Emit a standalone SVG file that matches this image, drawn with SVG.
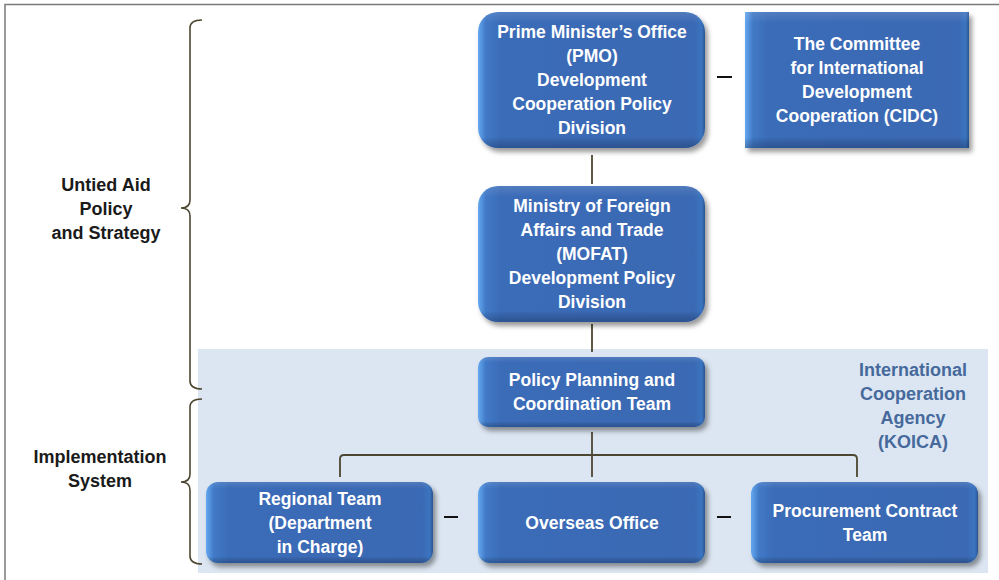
<svg xmlns="http://www.w3.org/2000/svg" width="999" height="580" viewBox="0 0 999 580">
  <defs>
    <linearGradient id="boxH" x1="0" y1="0" x2="1" y2="0">
      <stop offset="0" stop-color="#64a8f0"/>
      <stop offset="0.035" stop-color="#4179c6"/>
      <stop offset="0.1" stop-color="#3b6cb8"/>
      <stop offset="0.95" stop-color="#3a69b3"/>
      <stop offset="0.985" stop-color="#3b74c0"/>
      <stop offset="1" stop-color="#2a5594"/>
    </linearGradient>
    <linearGradient id="boxV" x1="0" y1="0" x2="0" y2="1">
      <stop offset="0" stop-color="#ffffff" stop-opacity="0.12"/>
      <stop offset="0.08" stop-color="#ffffff" stop-opacity="0"/>
      <stop offset="0.92" stop-color="#000000" stop-opacity="0"/>
      <stop offset="1" stop-color="#0a1e40" stop-opacity="0.3"/>
    </linearGradient>
    <filter id="shadow" x="-10%" y="-10%" width="125%" height="130%">
      <feDropShadow dx="3" dy="4" stdDeviation="2.5" flood-color="#000" flood-opacity="0.4"/>
    </filter>
  </defs>
  <style>
    .box { fill: url(#boxH); filter: url(#shadow); }
    .gloss { fill: url(#boxV); }
    .lbl { font-family: "Liberation Sans", Arial, sans-serif; font-weight: bold; font-size: 17.5px; fill: #ffffff; text-anchor: middle; }
    .side { font-family: "Liberation Sans", Arial, sans-serif; font-weight: bold; font-size: 18px; fill: #1a1a1a; text-anchor: middle; }
    .agency { font-family: "Liberation Sans", Arial, sans-serif; font-weight: bold; font-size: 18px; fill: #46699c; text-anchor: middle; }
    .link { fill: none; stroke: #4d4631; stroke-width: 1.8; }
    .brace { fill: none; stroke: #4d4631; stroke-width: 1.6; }
    .dash { stroke: #111111; stroke-width: 2; }
  </style>

  <!-- page -->
  <rect x="0" y="0" width="999" height="580" fill="#ffffff"/>
  <rect x="5" y="4.5" width="1000" height="600" fill="none" stroke="#7a7a7a" stroke-width="1.5"/>

  <!-- agency band -->
  <rect x="198" y="349" width="790" height="224" fill="#dce6f2"/>

  <!-- braces -->
  <g id="braces">
    <path class="brace" d="M202,20 Q190,20 190,28 L190,200 Q190,208 181,208 Q190,208 190,216 L190,381 Q190,389 202,389"/>
    <path class="brace" d="M202,399 Q190,399 190,407 L190,474 Q190,482 181,482 Q190,482 190,490 L190,556 Q190,564 202,564"/>
  </g>

  <!-- side labels -->
  <g id="label-policy">
    <text class="side" x="106" y="191">Untied Aid</text>
    <text class="side" x="106" y="215">Policy</text>
    <text class="side" x="106" y="239">and Strategy</text>
  </g>
  <g id="label-implementation">
    <text class="side" x="100" y="463">Implementation</text>
    <text class="side" x="100" y="487">System</text>
  </g>

  <!-- connectors -->
  <g id="connectors">
    <line class="link" x1="592" y1="155" x2="592" y2="184"/>
    <line class="link" x1="592" y1="324" x2="592" y2="352"/>
    <line class="link" x1="592" y1="432" x2="592" y2="477"/>
    <path class="link" d="M340,477 L340,459 Q340,455 344,455 L853,455 Q857,455 857,459 L857,477"/>
    <line class="dash" x1="717" y1="77" x2="732" y2="77"/>
    <line class="dash" x1="444" y1="517" x2="458" y2="517"/>
    <line class="dash" x1="717" y1="517" x2="731" y2="517"/>
  </g>

  <!-- nodes -->
  <g id="pmo">
    <rect class="box" x="478" y="12" width="227" height="136" rx="20"/>
    <rect class="gloss" x="478" y="12" width="227" height="136" rx="20"/>
    <text class="lbl" x="592" y="38">Prime Minister’s Office</text>
    <text class="lbl" x="592" y="62">(PMO)</text>
    <text class="lbl" x="592" y="86">Development</text>
    <text class="lbl" x="592" y="110">Cooperation Policy</text>
    <text class="lbl" x="592" y="134">Division</text>
  </g>

  <g id="cidc">
    <rect class="box" x="745" y="12" width="224" height="136"/>
    <rect class="gloss" x="745" y="12" width="224" height="136"/>
    <text class="lbl" x="857" y="50">The Committee</text>
    <text class="lbl" x="857" y="74">for International</text>
    <text class="lbl" x="857" y="98">Development</text>
    <text class="lbl" x="857" y="122">Cooperation (CIDC)</text>
  </g>

  <g id="mofat">
    <rect class="box" x="478" y="186" width="227" height="136" rx="20"/>
    <rect class="gloss" x="478" y="186" width="227" height="136" rx="20"/>
    <text class="lbl" x="592" y="212">Ministry of Foreign</text>
    <text class="lbl" x="592" y="236">Affairs and Trade</text>
    <text class="lbl" x="592" y="260">(MOFAT)</text>
    <text class="lbl" x="592" y="284">Development Policy</text>
    <text class="lbl" x="592" y="308">Division</text>
  </g>

  <g id="policy-planning">
    <rect class="box" x="478" y="357" width="227" height="70" rx="10"/>
    <rect class="gloss" x="478" y="357" width="227" height="70" rx="10"/>
    <text class="lbl" x="592" y="386">Policy Planning and</text>
    <text class="lbl" x="592" y="410">Coordination Team</text>
  </g>

  <g id="koica-label">
    <text class="agency" x="913" y="376">International</text>
    <text class="agency" x="913" y="400">Cooperation</text>
    <text class="agency" x="913" y="424">Agency</text>
    <text class="agency" x="913" y="448">(KOICA)</text>
  </g>

  <g id="regional-team">
    <rect class="box" x="206" y="482" width="227" height="81" rx="12"/>
    <rect class="gloss" x="206" y="482" width="227" height="81" rx="12"/>
    <text class="lbl" x="320" y="505">Regional Team</text>
    <text class="lbl" x="320" y="529">(Department</text>
    <text class="lbl" x="320" y="553">in Charge)</text>
  </g>

  <g id="overseas-office">
    <rect class="box" x="478" y="482" width="227" height="81" rx="12"/>
    <rect class="gloss" x="478" y="482" width="227" height="81" rx="12"/>
    <text class="lbl" x="592" y="529">Overseas Office</text>
  </g>

  <g id="procurement-team">
    <rect class="box" x="751" y="482" width="227" height="81" rx="12"/>
    <rect class="gloss" x="751" y="482" width="227" height="81" rx="12"/>
    <text class="lbl" x="865" y="517">Procurement Contract</text>
    <text class="lbl" x="865" y="541">Team</text>
  </g>
</svg>
